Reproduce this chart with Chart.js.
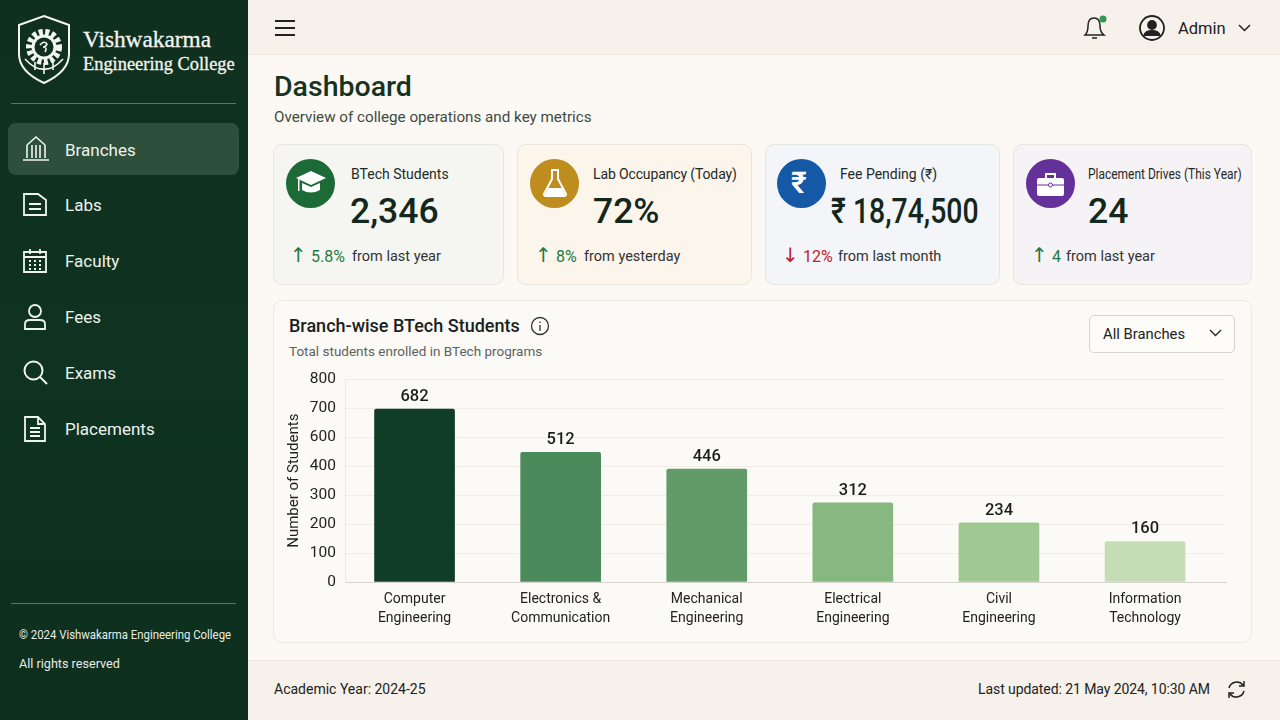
<!DOCTYPE html>
<html>
<head>
<meta charset="utf-8">
<title>Dashboard</title>
<script src="https://cdn.jsdelivr.net/npm/chart.js@4"></script>
<style>
* { box-sizing: border-box; margin: 0; padding: 0; }
body { width: 1280px; height: 720px; overflow: hidden; position: relative; background: #fcf9f4; font-family: Roboto, "Noto Sans", sans-serif; color: #1c2a22; }
.abs, .abs-svg { position: absolute; }
.abs { white-space: nowrap; transform-origin: left center; }
#sidebar { position: absolute; left: 0; top: 0; width: 248px; height: 720px; background: linear-gradient(180deg, #10301f, #0f3321 50%, #0e2f1e); }
#topbar { position: absolute; left: 248px; top: 0; width: 1032px; height: 55px; background: #f6f1ea; border-bottom: 1px solid #ebe6de; }
#footer { position: absolute; left: 248px; top: 660px; width: 1032px; height: 60px; background: #f6f1ea; border-top: 1px solid #ebe6de; }
.rule { position: absolute; left: 11px; width: 225px; height: 1px; background: #5b7565; }
#active { position: absolute; left: 8px; top: 123px; width: 231px; height: 52px; border-radius: 8px; background: #2e4f3b; }
.nav { position: absolute; left: 65px; font-size: 17px; color: #eef3ee; transform: translateY(-50%); }
.card { position: absolute; top: 144px; height: 141px; border: 1px solid #e8e6e0; border-radius: 9px; }
.circle { position: absolute; top: 159px; width: 49px; height: 49px; border-radius: 50%; }
.lbl { font-size: 14px; color: #1f2a24; top: 166px; }
.val { font-size: 35.5px; font-weight: 500; color: #14271c; top: 190px; }
.delta { font-size: 14.5px; color: #333; top: 248px; }
.up { color: #1f7a3f; font-size: 16px; }
.down { color: #c0202a; font-size: 16px; }
.arrow { font-size: 20px; top: 243px; font-family: "DejaVu Sans", sans-serif; }
#chartCard { position: absolute; left: 273px; top: 300px; width: 979px; height: 343px; background: #fcfaf6; border: 1px solid #ece9e3; border-radius: 9px; }
#chartWrap { position: absolute; left: 280px; top: 361px; width: 960px; height: 274px; }
#select { position: absolute; left: 1089px; top: 315px; width: 146px; height: 38px; border: 1px solid #d6d4ce; border-radius: 5px; background: #fdfcf9; }
</style>
</head>
<body>
<div id="sidebar"></div>
<div id="topbar"></div>
<div id="footer"></div>

<svg class="abs-svg" style="left:15px;top:14px" width="58" height="72" viewBox="0 0 58 72" fill="none" stroke="#f3f5f1">
  <path d="M29 2 L54 11 V40 C54 54 42 63 29 69 C16 63 4 54 4 40 V11 Z" stroke-width="2"/>
  <circle cx="29" cy="33" r="15" stroke-width="6" stroke-dasharray="4 2.5"/>
  <circle cx="29" cy="33" r="11" stroke-width="3"/>
  <path d="M25 31 q4 -5 7 -1 q-1 3 -4 3 q5 0 2 5" stroke-width="1.6"/>
  <path d="M10 45 Q20 56 29 55 Q38 56 48 45 M20 48 V56 M29 49 V60 M38 48 V56" stroke-width="1.6"/>
</svg>
<div class="abs" style="left:83px;top:26px;font:400 23.300px 'Liberation Serif',serif;color:#f3f5f1;-webkit-text-stroke:0.3px #f3f5f1">Vishwakarma</div>
<div class="abs" style="left:83px;top:54px;font:400 18.400px 'Liberation Serif',serif;color:#f3f5f1;-webkit-text-stroke:0.3px #f3f5f1">Engineering College</div>
<div class="rule" style="top:103px"></div>
<div id="active"></div>

<svg class="abs-svg" style="left:22px;top:135px" width="28" height="28" viewBox="0 0 28 28" fill="none" stroke="#f0f4ef" stroke-width="1.6"><path d="M5 10 L14 2 L23 10 M5 10 V23 M10 10 V23 M14 10 V23 M18 10 V23 M23 10 V23 M1 25 H27"/></svg>
<svg class="abs-svg" style="left:22px;top:191px" width="26" height="28" viewBox="0 0 26 28" fill="none" stroke="#f0f4ef" stroke-width="1.8"><path d="M2 3 H16 L24 9 V24 H2 Z M7 13 H19 M7 18 H19"/></svg>
<svg class="abs-svg" style="left:22px;top:247px" width="26" height="28" viewBox="0 0 26 28" fill="none" stroke="#f0f4ef" stroke-width="1.8"><path d="M2 5 H24 V25 H2 Z M8 2 V7 M18 2 V7 M2 10 H24 M7 14 H9 M12 14 H14 M17 14 H19 M7 18 H9 M12 18 H14 M17 18 H19 M7 22 H9 M12 22 H14 M17 22 H19"/></svg>
<svg class="abs-svg" style="left:22px;top:303px" width="26" height="28" viewBox="0 0 26 28" fill="none" stroke="#f0f4ef" stroke-width="1.8"><circle cx="13" cy="8" r="6"/><path d="M3 26 V21 Q3 17 8 17 H18 Q23 17 23 21 V26 Z"/></svg>
<svg class="abs-svg" style="left:22px;top:359px" width="28" height="28" viewBox="0 0 28 28" fill="none" stroke="#f0f4ef" stroke-width="2"><circle cx="11.500" cy="11.500" r="9"/><path d="M18 18 L25 25"/></svg>
<svg class="abs-svg" style="left:22px;top:415px" width="26" height="28" viewBox="0 0 26 28" fill="none" stroke="#f0f4ef" stroke-width="1.8"><path d="M3 2 H16 L23 9 V26 H3 Z M16 2 V9 H23 M8 13 H18 M8 17 H18 M8 21 H18"/></svg>

<div class="nav" style="top:150px">Branches</div>
<div class="nav" style="top:205px">Labs</div>
<div class="nav" style="top:261px">Faculty</div>
<div class="nav" style="top:317px">Fees</div>
<div class="nav" style="top:373px">Exams</div>
<div class="nav" style="top:429px">Placements</div>

<div class="rule" style="top:603px"></div>
<div class="abs" style="left:19px;top:627px;font-size:13px;color:#e6ece7;transform:scaleX(0.875)">© 2024 Vishwakarma Engineering College</div>
<div class="abs" style="left:19px;top:656px;font-size:13px;color:#e6ece7;transform:scaleX(0.97)">All rights reserved</div>

<svg class="abs-svg" style="left:274px;top:18px" width="22" height="20" stroke="#222" stroke-width="2"><path d="M1 3 H21 M1 10 H21 M1 17 H21"/></svg>
<svg class="abs-svg" style="left:1080px;top:12px" width="30" height="30" viewBox="0 0 30 30" fill="none" stroke="#222" stroke-width="1.500"><path d="M5 23 Q8 20 8 14 Q8 6 14 6 Q20 6 20 14 Q20 20 24 23 Z M12 26 H17"/><circle cx="23" cy="7" r="3.500" fill="#2f9a4e" stroke="none"/></svg>
<svg class="abs-svg" style="left:1138px;top:14px" width="28" height="28" viewBox="0 0 28 28" fill="none" stroke="#222" stroke-width="1.800"><circle cx="14" cy="14" r="12"/><circle cx="14" cy="11" r="4" fill="#222"/><path d="M6 22 Q7 17 14 17 Q21 17 22 22" fill="#222"/></svg>
<div class="abs" style="left:1178px;top:19px;font-size:16.500px;color:#222">Admin</div>
<svg class="abs-svg" style="left:1238px;top:24px" width="13" height="9" fill="none" stroke="#222" stroke-width="1.500"><path d="M1 1 L6.500 6.500 L12 1"/></svg>

<div class="abs" style="left:274px;top:70px;font-size:28.500px;font-weight:500;color:#163322">Dashboard</div>
<div class="abs" style="left:274px;top:108px;font-size:15.200px;color:#3e4a43">Overview of college operations and key metrics</div>

<div class="card" style="left:273px;width:231px;background:#f5f6f2"></div>
<div class="card" style="left:517px;width:235px;background:#fcf5ec"></div>
<div class="card" style="left:765px;width:235px;background:#f3f5f8"></div>
<div class="card" style="left:1013px;width:239px;background:#f6f3f7"></div>

<div class="circle" style="left:286px;background:#1c6b36"></div>
<div class="circle" style="left:530px;background:#bf8c1e"></div>
<div class="circle" style="left:777px;background:#1458a6"></div>
<div class="circle" style="left:1026px;background:#643099"></div>

<svg class="abs-svg" style="left:294px;top:168px" width="34" height="30" viewBox="0 0 34 30" fill="#fff"><path d="M17 3 L32 10 L17 17 L2 10 Z"/><path d="M8 15 L17 19 L26 15 V22 Q17 27 8 22 Z"/><rect x="4" y="11" width="1.500" height="12"/></svg>
<svg class="abs-svg" style="left:541px;top:167px" width="28" height="32" viewBox="0 0 28 32" fill="none" stroke="#fff" stroke-width="2"><path d="M10 3 H18 M11 3 V12 L3 27 Q3 29 5 29 H23 Q25 29 25 27 L17 12 V3"/><path d="M7 21 H21 L24 28 H4 Z" fill="#fff" stroke="none"/></svg>
<div class="abs" style="left:791px;top:165px;font-size:30px;font-weight:600;color:#fff">₹</div>
<svg class="abs-svg" style="left:1036px;top:172px" width="29" height="25" viewBox="0 0 29 25"><path d="M10 6 V2 H19 V6" fill="none" stroke="#fff" stroke-width="2"/><rect x="1" y="6" width="27" height="18" rx="2" fill="#fff"/><path d="M1 13 H28" stroke="#643099"/><circle cx="14.500" cy="13" r="2" fill="#fff" stroke="#643099"/></svg>

<div class="abs lbl" style="left:351px">BTech Students</div>
<div class="abs lbl" style="left:593px;letter-spacing:-0.13px">Lab Occupancy (Today)</div>
<div class="abs lbl" style="left:840px">Fee Pending (₹)</div>
<div class="abs lbl" style="left:1088px;transform:scaleX(0.855)">Placement Drives (This Year)</div>

<div class="abs val" style="left:350px">2,346</div>
<div class="abs val" style="left:593px">72%</div>
<div class="abs val" style="left:831px;transform:scaleX(0.8)">₹ 18,74,500</div>
<div class="abs val" style="left:1088px">24</div>

<div class="abs arrow up" style="left:290px;font-size:20px">↑</div>
<div class="abs delta up" style="left:311px;top:247px">5.8%</div>
<div class="abs delta" style="left:352px">from last year</div>
<div class="abs arrow up" style="left:535px;font-size:20px">↑</div>
<div class="abs delta up" style="left:556px;top:247px">8%</div>
<div class="abs delta" style="left:584px">from yesterday</div>
<div class="abs arrow down" style="left:782px;font-size:20px">↓</div>
<div class="abs delta down" style="left:803px;top:247px">12%</div>
<div class="abs delta" style="left:838px">from last month</div>
<div class="abs arrow up" style="left:1031px;font-size:20px">↑</div>
<div class="abs delta up" style="left:1052px;top:247px">4</div>
<div class="abs delta" style="left:1066px">from last year</div>

<div id="chartCard"></div>
<div class="abs" style="left:289px;top:315px;font-size:18px;font-weight:500;color:#1a1f1c">Branch-wise BTech Students</div>
<svg class="abs-svg" style="left:530px;top:316px" width="20" height="20" fill="none" stroke="#333" stroke-width="1.300"><circle cx="10" cy="10" r="8.500"/><path d="M10 9 V15 M10 5.500 V7"/></svg>
<div class="abs" style="left:289px;top:343px;font-size:13.500px;color:#5c625e">Total students enrolled in BTech programs</div>
<div id="select"></div>
<div class="abs" style="left:1103px;top:325px;font-size:14.800px;color:#222">All Branches</div>
<svg class="abs-svg" style="left:1209px;top:329px" width="13" height="9" fill="none" stroke="#222" stroke-width="1.300"><path d="M1 1 L6.500 6.500 L12 1"/></svg>

<div id="chartWrap"><canvas id="branchChart"></canvas></div>

<div class="abs" style="left:274px;top:681px;font-size:14px;color:#222">Academic Year: 2024-25</div>
<div class="abs" style="left:978px;top:681px;font-size:14px;letter-spacing:-0.08px;color:#222">Last updated: 21 May 2024, 10:30 AM</div>
<svg class="abs-svg" style="left:1226px;top:679px" width="21" height="21" viewBox="0 0 21 21" fill="none" stroke="#222" stroke-width="1.500"><path d="M3 9 A8 8 0 0 1 17 6 M18 2 V7 H13 M18 12 A8 8 0 0 1 4 15 M3 19 V14 H8"/></svg>

<script>
const categories = [
    ["Computer", "Engineering"],
    ["Electronics &", "Communication"],
    ["Mechanical", "Engineering"],
    ["Electrical", "Engineering"],
    ["Civil", "Engineering"],
    ["Information", "Technology"]
];
const students = [682, 512, 446, 312, 234, 160];
const barColors = ["#0f3d26", "#4b8a5a", "#629b6a", "#86b87f", "#a0c892", "#c5dcb6"];
// The printed axis skips 500, the labels sit at equal steps
const yTickLabels = [0, 100, 200, 300, 400, 600, 700, 800];
const yMax = 800;

// Numbers above the bars
const barValues = {
    id: "barValues",
    afterDatasetsDraw(chart) {
        const ctx = chart.ctx;
        ctx.save();
        ctx.font = "500 16.5px Roboto";
        ctx.fillStyle = "#1a1f1c";
        ctx.textAlign = "center";
        ctx.textBaseline = "bottom";
        chart.getDatasetMeta(0).data.forEach((bar, i) => {
            ctx.fillText(students[i], bar.x, bar.y - 4);
        });
        ctx.restore();
    }
};

new Chart(document.getElementById("branchChart"), {
    type: "bar",
    data: {
        datasets: [{
            data: students.map((v, i) => ({ x: i, y: v })),
            backgroundColor: barColors,
            barThickness: 80,
            borderRadius: { topLeft: 2, topRight: 2 },
            borderSkipped: "bottom"
        }]
    },
    plugins: [barValues],
    options: {
        responsive: true,
        maintainAspectRatio: false,
        animation: false,
        layout: { padding: { top: 6, right: 14 } },
        plugins: { legend: { display: false }, tooltip: { enabled: false } },
        scales: {
            x: {
                type: "linear",
                offset: false,
                min: -0.476,
                max: 5.554,
                afterBuildTicks: s => { s.ticks = categories.map((_, i) => ({ value: i })); },
                grid: { display: false },
                border: { color: "#d5d3cc" },
                ticks: {
                    color: "#222",
                    font: { family: "Roboto", size: 14, lineHeight: 1.36 },
                    maxRotation: 0,
                    autoSkip: false,
                    padding: 0,
                    callback: v => categories[v]
                },
                afterFit: s => { s.height = 53; }
            },
            y: {
                min: 0,
                max: yMax,
                afterBuildTicks: s => {
                    s.ticks = yTickLabels.map((_, i) => ({ value: i * yMax / (yTickLabels.length - 1) }));
                },
                grid: { color: "#f1ede6", drawTicks: false },
                border: { color: "#ece9e3" },
                ticks: {
                    color: "#222",
                    font: { family: "Roboto", size: 15.5 },
                    padding: 9,
                    callback: (v, i) => yTickLabels[i]
                },
                title: { display: true, text: "Number of Students", color: "#222", font: { family: "Roboto", size: 15 }, padding: { top: 5, bottom: 0 } },
                afterFit: s => { s.width = 65; }
            }
        }
    }
});
</script>
</body>
</html>
